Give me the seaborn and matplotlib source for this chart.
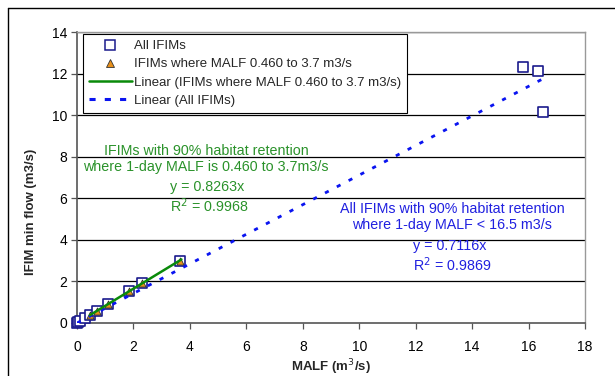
import matplotlib
matplotlib.use("Agg")
import matplotlib.pyplot as plt
import seaborn as sns
import numpy as np
import pandas as pd
from matplotlib.lines import Line2D

# Data
all_malf = [0.0, 0.05, 0.1, 0.3, 0.46, 0.7, 1.1, 1.85, 2.3, 3.65, 15.8, 16.35, 16.5]
all_ifim = [0.0, 0.03, 0.08, 0.25, 0.38, 0.6, 0.92, 1.53, 1.93, 3.0, 12.3, 12.12, 10.15]
sub_malf = [0.46, 0.7, 1.1, 1.85, 2.3, 3.65]
sub_ifim = [0.38, 0.6, 0.92, 1.53, 1.93, 3.0]
slope_sub = 0.8263
slope_all = 0.7116
range_sub = [0.46, 3.7]
range_all = [0.0, 16.5]

sns.set_theme(style="white")
plt.rcParams['font.family'] = ['Liberation Sans', 'DejaVu Sans']

W, H = 615, 376
fig = plt.figure(figsize=(W / 100, H / 100), dpi=100)
L, R, T, B = 77, 585, 32, 323
ax = fig.add_axes([L / W, 1 - B / H, (R - L) / W, (B - T) / H])

df_all = pd.DataFrame({"x": all_malf, "y": all_ifim})
df_sub = pd.DataFrame({"x": sub_malf, "y": sub_ifim})
xs_sub = np.linspace(range_sub[0], range_sub[1], 2)
xs_all = np.linspace(range_all[0], range_all[1], 2)
df_fit_sub = pd.DataFrame({"x": xs_sub, "y": slope_sub * xs_sub})
df_fit_all = pd.DataFrame({"x": xs_all, "y": slope_all * xs_all})

for v in range(2, 15, 2):
    ax.axhline(v, color="black", lw=0.9, zorder=0)

sq_edge = "#1a1a8c"
tri_col = "#e8901a"
green_line = "#0a8a0a"
blue_line = "#0a14f0"

sns.scatterplot(data=df_all, x="x", y="y", ax=ax, marker="s", s=55,
                facecolor="white", edgecolor=sq_edge, linewidth=1.2, zorder=3,
                clip_on=False)
sns.scatterplot(data=df_sub, x="x", y="y", ax=ax, marker="^", s=26,
                color=tri_col, edgecolor="#333333", linewidth=0.6, zorder=4,
                clip_on=False)
sns.lineplot(data=df_fit_all, x="x", y="y", ax=ax, color=blue_line, lw=2.0,
             linestyle=(0, (1.5, 3.3)), zorder=5)
sns.lineplot(data=df_fit_sub, x="x", y="y", ax=ax, color=green_line, lw=1.8, zorder=6)

ax.set_xlim(0, 18)
ax.set_ylim(0, 14)
ax.set_xticks(range(0, 19, 2))
ax.set_yticks(range(0, 15, 2))
ax.tick_params(axis="both", labelsize=10, length=4, width=0.9, color="#555555",
               direction="out", bottom=True, left=True, pad=3, labelcolor="black")
ax.tick_params(axis="x", pad=8)
for s in ["left", "bottom"]:
    ax.spines[s].set_color("#555555")
    ax.spines[s].set_linewidth(1.2)
for s in ["top", "right"]:
    ax.spines[s].set_color("#999999")
    ax.spines[s].set_linewidth(1.0)

ax.set_xlabel("MALF (m$^3$/s)", fontsize=9.5, fontweight="bold", labelpad=3)
ax.set_ylabel("IFIM min flow (m3/s)", fontsize=9.5, fontweight="bold")
ax.yaxis.set_label_coords(-40 / (R - L), (B - 212) / (B - T))

green = "#2a922a"
blue = "#2020e0"
ax.text(4.57, 7.9, "IFIMs with 90% habitat retention\nwhere 1-day MALF is 0.460 to 3.7m3/s",
        color=green, fontsize=10.3, ha="center", va="center", linespacing=1.15)
ax.text(3.3, 6.05, "y = 0.8263x\nR$^2$ = 0.9968", color=green, fontsize=10.3,
        ha="left", va="center", linespacing=1.15)
ax.text(13.3, 5.1, "All IFIMs with 90% habitat retention\nwhere 1-day MALF < 16.5 m3/s",
        color=blue, fontsize=10.3, ha="center", va="center", linespacing=1.15)
ax.text(11.9, 3.2, "y = 0.7116x\nR$^2$ = 0.9869", color=blue, fontsize=10.3,
        ha="left", va="center", linespacing=1.15)

handles = [
    Line2D([], [], marker="s", ls="none", mfc="white", mec=sq_edge, ms=6.5, mew=1.1),
    Line2D([], [], marker="^", ls="none", mfc=tri_col, mec="#333333", ms=5.5, mew=0.6),
    Line2D([], [], color=green_line, lw=1.8),
    Line2D([], [], color=blue_line, lw=2.2, ls=(0, (2, 3))),
]
labels = ["All IFIMs", "IFIMs where MALF 0.460 to 3.7 m3/s",
          "Linear (IFIMs where MALF 0.460 to 3.7 m3/s)", "Linear (All IFIMs)"]
leg = ax.legend(handles, labels, loc="upper left",
                bbox_to_anchor=(83 / W, 1 - 34 / H), bbox_transform=fig.transFigure,
                fontsize=9.5, frameon=True, fancybox=False, framealpha=1,
                edgecolor="black", borderpad=0.45, labelspacing=0.45,
                handlelength=3.25, handletextpad=0.15, borderaxespad=0.0)
leg.get_frame().set_linewidth(0.8)
leg.set_zorder(10)

# figure border (partial frame)
fig.add_artist(Line2D([8 / W, 8 / W], [0, 1 - 8 / H], color="black", lw=1.0,
                      transform=fig.transFigure))
fig.add_artist(Line2D([8 / W, 1], [1 - 8 / H, 1 - 8 / H], color="black", lw=1.0,
                      transform=fig.transFigure))

fig.savefig("out.png", dpi=100)
